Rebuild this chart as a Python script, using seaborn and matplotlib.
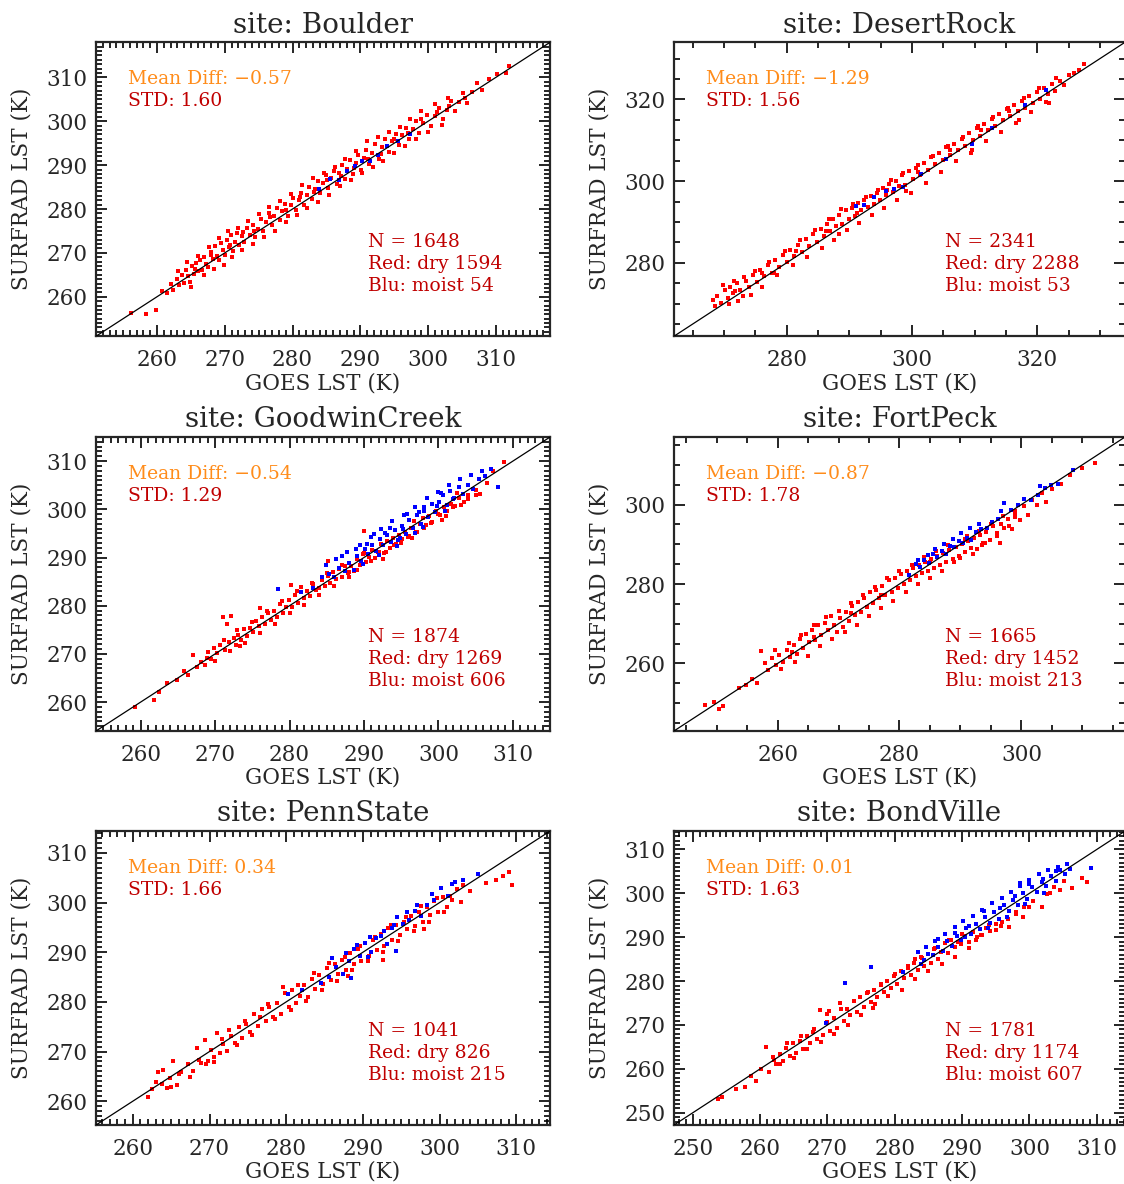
import numpy as np
import pandas as pd
import seaborn as sns
import matplotlib
matplotlib.use('Agg')
import matplotlib.pyplot as plt
from matplotlib.ticker import MultipleLocator

sns.set_style('ticks')
plt.rcParams['font.family'] = ['DejaVu Serif', 'DejaVu Sans']

# ---- data (GOES LST vs SURFRAD LST, K) ----
sites = ['Boulder', 'DesertRock', 'GoodwinCreek', 'FortPeck', 'PennState', 'BondVille']
mean_diff = [-0.57, -1.29, -0.54, -0.87, 0.34, 0.01]
std_dev = [1.60, 1.56, 1.29, 1.78, 1.66, 1.63]
n_total = [1648, 2341, 1874, 1665, 1041, 1781]
n_dry = [1594, 2288, 1269, 1452, 826, 1174]
n_moist = [54, 53, 606, 213, 215, 607]

boulder_red_x = [256.1, 258.4, 259.9, 260.8, 261.5, 262.0, 262.4, 262.9, 263.3, 263.7,
                 264.0, 264.3, 264.6, 264.9, 265.2, 265.4, 265.8, 266.1, 266.4, 266.7,
                 267.0, 267.3, 267.6, 267.9, 268.2, 268.5, 268.8, 269.1, 269.4, 269.7,
                 270.0, 270.3, 270.6, 270.9, 271.2, 271.5, 271.8, 272.1, 272.5, 272.9,
                 273.3, 273.7, 274.1, 274.5, 274.9, 275.3, 275.7, 276.1, 276.5, 276.9,
                 277.3, 277.7, 278.1, 278.5, 278.9, 279.3, 279.7, 280.1, 280.5, 280.9,
                 281.3, 281.7, 282.1, 282.5, 282.9, 283.3, 283.7, 284.1, 284.5, 284.9,
                 285.3, 285.7, 286.1, 286.5, 286.9, 287.3, 287.7, 288.1, 288.5, 288.9,
                 289.3, 289.7, 290.1, 290.5, 290.9, 291.3, 291.7, 292.2, 292.7, 293.2,
                 293.7, 294.2, 294.7, 295.2, 295.7, 296.2, 296.7, 297.2, 297.7, 298.2,
                 298.7, 299.2, 299.8, 300.4, 301.0, 301.6, 302.2, 302.8, 303.4, 304.0,
                 304.6, 305.2, 305.8, 306.5, 307.2, 308.0, 309.0, 310.2, 311.5, 312.0,
                 265.6, 268.0, 270.8, 272.7, 274.3, 276.7, 279.0, 281.1, 283.1, 285.1,
                 287.1, 289.1, 291.1, 293.0, 295.0, 297.0, 299.0, 301.3, 303.1, 305.5,
                 263.1, 264.5, 265.0, 266.0, 266.9, 267.7, 268.4, 269.2, 269.9, 270.5,
                 271.1, 271.9, 272.6, 273.4, 274.2, 275.0, 275.8, 276.6, 277.4, 278.2,
                 279.0, 279.8, 280.6, 281.4, 282.2, 283.0, 283.8, 284.6, 285.4, 286.2,
                 287.0, 287.8, 288.6, 289.4, 290.2, 291.0, 291.8, 292.6, 293.4, 294.2,
                 295.0, 295.8, 296.6, 297.4, 298.2, 299.0, 300.0, 301.0, 302.0, 303.0]
boulder_red_y = [256.3, 256.0, 256.9, 261.2, 260.9, 262.8, 261.5, 264.1, 262.6, 265.0,
                 263.2, 266.1, 264.8, 263.4, 266.9, 265.2, 267.6, 265.9, 268.3, 266.2,
                 269.1, 267.4, 266.8, 270.3, 268.7, 271.6, 269.4, 268.3, 272.2, 270.6,
                 269.5, 272.9, 271.3, 274.0, 270.4, 272.5, 274.6, 271.8, 273.9, 272.4,
                 275.7, 274.0, 276.3, 273.6, 275.4, 277.8, 275.1, 277.0, 279.2, 276.4,
                 278.4, 280.3, 277.5, 279.6, 281.2, 278.4, 280.9, 282.6, 279.7, 282.0,
                 283.7, 281.0, 283.3, 285.1, 282.2, 284.5, 286.4, 283.6, 285.9, 287.8,
                 284.9, 287.1, 288.6, 285.8, 288.3, 290.0, 286.9, 289.2, 291.1, 288.0,
                 290.4, 292.3, 289.0, 291.6, 293.4, 290.2, 292.7, 294.8, 291.5, 294.1,
                 296.0, 293.0, 295.5, 297.2, 294.6, 296.9, 298.5, 296.0, 298.2, 300.1,
                 297.3, 299.6, 301.5, 299.0, 301.2, 303.0, 300.4, 302.6, 304.7, 302.3,
                 304.4, 306.4, 304.1, 306.6, 308.7, 307.1, 309.6, 310.8, 310.9, 312.6,
                 266.3, 269.6, 271.9, 274.8, 275.1, 278.2, 279.8, 282.8, 283.9, 286.5,
                 287.6, 289.3, 291.4, 292.6, 295.9, 297.4, 300.4, 302.1, 303.4, 305.2,
                 265.9, 267.9, 262.3, 269.3, 264.9, 271.4, 266.4, 273.4, 267.3, 275.1,
                 269.0, 275.6, 270.6, 277.2, 272.1, 278.9, 273.6, 280.4, 275.0, 281.8,
                 277.0, 283.5, 278.6, 285.4, 280.2, 287.0, 281.7, 288.3, 283.3, 289.6,
                 285.2, 291.4, 286.5, 293.2, 288.1, 295.6, 289.6, 296.3, 291.0, 297.6,
                 292.8, 298.8, 294.3, 300.4, 296.0, 302.3, 297.6, 304.0, 299.1, 305.4]
boulder_blu_x = [283.9, 285.6, 286.8, 288.0, 289.2, 290.3, 291.4, 292.6, 294.0, 295.6, 297.4]
boulder_blu_y = [284.6, 286.9, 286.5, 288.6, 289.9, 290.9, 291.0, 292.3, 294.4, 295.5, 297.1]

desert_red_x = [268.2, 268.9, 269.5, 270.1, 270.6, 271.0, 271.5, 272.0, 272.5, 273.0,
                273.5, 274.0, 274.6, 275.2, 275.8, 276.4, 277.0, 277.6, 278.2, 278.8,
                279.4, 280.0, 280.6, 281.2, 281.8, 282.4, 283.0, 283.6, 284.2, 284.8,
                285.4, 285.9, 286.4, 286.9, 287.4, 287.9, 288.4, 288.9, 289.4, 289.9,
                290.4, 290.9, 291.4, 291.9, 292.4, 292.9, 293.4, 293.9, 294.4, 294.9,
                295.4, 295.9, 296.4, 296.9, 297.4, 297.9, 298.4, 298.9, 299.5, 300.1,
                300.7, 301.3, 301.9, 302.5, 303.1, 303.7, 304.3, 304.9, 305.5, 306.1,
                306.7, 307.3, 307.9, 308.5, 309.1, 309.7, 310.3, 310.9, 311.5, 312.1,
                312.7, 313.3, 313.9, 314.5, 315.1, 315.7, 316.3, 316.9, 317.5, 318.1,
                318.7, 319.3, 319.9, 320.5, 321.1, 321.7, 322.3, 322.9, 323.6, 324.3,
                325.0, 325.8, 326.6, 327.5, 321.8, 317.0, 309.5, 299.0, 288.3, 278.0,
                271.8, 276.0, 281.5, 286.2, 291.2, 296.0, 301.0, 306.0, 311.0, 315.5,
                268.6, 269.8, 270.8, 271.6, 272.3, 273.2, 274.3, 275.0, 276.1, 277.2,
                278.5, 279.8, 281.0, 282.1, 283.3, 284.5, 285.6, 286.7, 287.6, 288.6,
                289.6, 290.6, 291.6, 292.6, 293.6, 294.6, 295.6, 296.6, 297.6, 298.6,
                299.8, 301.0, 302.2, 303.4, 304.6, 305.8, 307.0, 308.2, 309.4, 310.6,
                311.8, 313.0, 314.2, 315.4, 316.6, 317.8, 319.0, 320.2, 321.4, 323.0]
desert_red_y = [270.9, 271.8, 270.2, 273.4, 271.3, 274.0, 272.6, 275.1, 273.3, 271.9,
                275.6, 274.1, 277.0, 275.3, 278.2, 276.8, 279.5, 277.4, 280.6, 279.0,
                281.9, 280.3, 283.2, 281.7, 284.4, 282.6, 285.8, 284.0, 287.0, 285.2,
                288.3, 286.5, 289.6, 287.8, 290.7, 288.9, 291.8, 289.4, 292.9, 290.6,
                293.5, 291.4, 294.6, 292.8, 295.3, 293.6, 296.4, 294.5, 297.2, 295.3,
                298.3, 296.6, 299.2, 297.4, 300.1, 298.8, 301.4, 299.0, 302.5, 300.6,
                303.2, 301.5, 304.5, 302.8, 305.9, 304.1, 307.0, 305.2, 308.3, 306.3,
                309.2, 307.6, 310.4, 308.7, 311.8, 310.0, 313.1, 311.0, 314.0, 312.4,
                315.3, 313.5, 316.4, 314.9, 317.6, 316.0, 318.7, 317.1, 319.6, 318.0,
                320.9, 319.1, 321.8, 320.2, 322.9, 321.4, 323.8, 322.1, 324.6, 323.6,
                325.9, 326.4, 327.2, 328.6, 319.2, 315.0, 307.6, 297.6, 287.0, 277.4,
                273.2, 277.5, 283.0, 287.9, 292.2, 297.8, 302.3, 307.5, 312.5, 317.1,
                269.4, 274.6, 269.9, 275.5, 270.6, 276.4, 272.0, 278.1, 274.0, 280.2,
                276.9, 282.8, 279.4, 285.6, 281.3, 288.0, 283.5, 290.8, 285.5, 293.1,
                288.0, 294.3, 289.7, 296.2, 291.6, 297.9, 293.5, 300.3, 295.4, 302.0,
                297.2, 303.9, 299.5, 306.1, 302.2, 308.6, 304.9, 310.8, 306.9, 313.4,
                309.8, 315.6, 312.1, 318.0, 314.2, 320.3, 316.8, 322.7, 319.3, 325.2]
desert_blu_x = [291.0, 292.3, 294.0, 295.8, 297.2, 298.6, 301.5, 305.5, 309.5, 312.8, 318.0, 321.4]
desert_blu_y = [293.8, 294.2, 296.0, 297.6, 298.0, 298.5, 301.8, 305.3, 309.2, 313.0, 318.6, 322.3]

goodwin_red_x = [259.2, 261.8, 262.4, 263.6, 264.9, 265.8, 266.4, 267.0, 267.6, 268.1,
                 268.6, 269.1, 269.5, 269.9, 270.3, 270.7, 271.0, 271.3, 271.6, 271.9,
                 272.2, 272.5, 272.8, 273.1, 273.5, 273.9, 274.3, 274.7, 275.1, 275.5,
                 275.9, 276.3, 276.7, 277.1, 277.5, 277.9, 278.3, 278.7, 279.1, 279.5,
                 279.9, 280.3, 280.7, 281.1, 281.5, 281.9, 282.3, 282.7, 283.1, 283.5,
                 283.9, 284.3, 284.7, 285.1, 285.5, 285.9, 286.3, 286.7, 287.1, 287.5,
                 287.9, 288.3, 288.7, 289.1, 289.5, 289.9, 290.3, 290.7, 291.1, 291.5,
                 291.9, 292.3, 292.7, 293.1, 293.5, 293.9, 294.3, 294.7, 295.1, 295.5,
                 295.9, 296.3, 296.7, 297.1, 297.5, 297.9, 298.3, 298.7, 299.2, 299.7,
                 300.2, 300.7, 301.2, 301.7, 302.2, 302.8, 303.4, 304.0, 305.0, 306.5,
                 307.3, 308.8, 305.6, 302.5, 290.0, 288.0, 285.2, 280.2, 276.0, 273.3,
                 268.9, 270.0, 271.2, 272.0, 273.0, 274.0, 275.0, 276.0, 277.0, 278.0,
                 279.0, 280.0, 281.0, 282.0, 283.0, 284.0, 285.0, 286.0, 287.0, 288.0,
                 289.0, 290.0, 291.0, 292.0, 293.0, 294.0, 295.0, 296.0, 297.0, 298.0,
                 299.0, 300.0, 301.0, 302.0, 303.0, 304.0, 305.0, 292.5, 296.5, 300.5]
goodwin_red_y = [259.0, 260.4, 262.1, 264.0, 264.6, 266.5, 265.7, 269.8, 267.2, 268.4,
                 267.6, 270.3, 268.9, 271.2, 270.1, 271.8, 277.6, 270.9, 276.3, 272.4,
                 277.9, 273.2, 271.8, 274.0, 272.9, 275.1, 273.8, 275.4, 274.6, 276.9,
                 275.7, 277.6, 276.3, 278.4, 277.0, 278.9, 277.6, 280.4, 278.5, 279.7,
                 281.1, 279.8, 282.3, 280.6, 283.8, 281.7, 283.0, 282.1, 284.5, 283.2,
                 283.7, 285.4, 284.1, 286.2, 284.8, 286.9, 285.6, 287.6, 286.0, 288.3,
                 286.8, 288.2, 287.3, 289.7, 288.4, 290.8, 289.1, 290.2, 291.6, 289.8,
                 291.2, 292.8, 290.9, 293.4, 292.0, 294.1, 292.9, 294.7, 293.8, 295.2,
                 294.3, 296.1, 297.6, 295.2, 296.9, 298.1, 296.7, 298.6, 297.3, 299.6,
                 298.9, 300.5, 299.6, 301.2, 300.7, 302.3, 301.6, 303.0, 304.1, 305.5,
                 307.9, 309.8, 303.2, 303.4, 295.4, 287.0, 289.3, 284.2, 279.5, 271.7,
                 269.2, 268.6, 272.9, 270.6, 275.0, 272.3, 276.7, 274.4, 279.0, 276.1,
                 280.9, 278.5, 283.0, 280.2, 284.7, 282.3, 286.7, 284.0, 288.4, 285.9,
                 287.5, 290.9, 289.3, 291.2, 291.1, 292.6, 293.0, 294.4, 295.3, 296.2,
                 297.2, 299.0, 298.7, 300.4, 300.9, 302.2, 303.0, 289.6, 294.0, 297.8]
goodwin_blu_x = [278.4, 281.6, 283.2, 284.4, 285.3, 286.0, 286.7, 287.4, 288.0, 288.6,
                 289.1, 289.6, 290.1, 290.6, 291.1, 291.6, 292.1, 292.6, 293.1, 293.6,
                 294.1, 294.6, 295.1, 295.6, 296.1, 296.6, 297.1, 297.6, 298.1, 298.6,
                 299.1, 299.6, 300.1, 300.6, 301.1, 301.6, 302.1, 302.7, 303.3, 304.0,
                 304.7, 305.5, 306.3, 307.0, 290.4, 292.8, 295.3, 297.4, 299.8, 302.0,
                 287.0, 288.9, 291.3, 293.5, 295.8, 298.0, 300.4, 296.9, 294.4, 308.0,
                 284.9, 286.3, 287.7, 289.4, 290.9, 292.3, 293.8, 295.4, 296.8, 298.4,
                 299.9, 301.4, 302.9, 304.4, 305.9, 289.9, 292.0, 294.9, 297.9, 300.9]
goodwin_blu_y = [283.4, 282.8, 283.6, 285.9, 286.5, 285.9, 287.8, 287.2, 288.9, 287.5,
                 290.4, 289.3, 291.8, 290.7, 292.6, 291.4, 293.9, 292.5, 294.7, 293.2,
                 295.8, 293.7, 296.6, 294.9, 297.7, 296.2, 298.8, 297.0, 299.7, 298.3,
                 301.2, 299.4, 301.6, 302.9, 300.8, 303.7, 302.4, 304.6, 303.2, 305.1,
                 304.2, 306.3, 306.9, 308.4, 292.9, 295.1, 296.0, 299.4, 300.6, 302.1,
                 290.3, 291.8, 294.8, 296.2, 299.0, 300.5, 303.3, 295.0, 292.3, 304.6,
                 288.4, 289.6, 291.1, 292.6, 294.2, 296.0, 297.5, 298.8, 300.5, 302.3,
                 303.6, 305.0, 306.2, 307.2, 307.9, 288.6, 290.5, 294.0, 296.4, 299.6]

fortpeck_red_x = [248.1, 249.5, 250.4, 251.0, 253.6, 254.8, 255.8, 256.6, 257.3, 257.9,
                  258.5, 259.1, 259.7, 260.3, 260.9, 261.5, 262.1, 262.7, 263.2, 263.7,
                  264.2, 264.7, 265.2, 265.7, 266.2, 266.7, 267.2, 267.7, 268.2, 268.7,
                  269.2, 269.7, 270.2, 270.7, 271.2, 271.7, 272.2, 272.7, 273.2, 273.7,
                  274.2, 274.7, 275.2, 275.7, 276.2, 276.7, 277.2, 277.7, 278.2, 278.7,
                  279.2, 279.7, 280.2, 280.7, 281.2, 281.7, 282.2, 282.7, 283.2, 283.7,
                  284.2, 284.7, 285.2, 285.7, 286.2, 286.7, 287.2, 287.7, 288.2, 288.7,
                  289.2, 289.7, 290.2, 290.7, 291.2, 291.7, 292.2, 292.7, 293.2, 293.7,
                  294.2, 294.8, 295.4, 296.0, 296.6, 297.2, 297.8, 298.4, 299.0, 299.7,
                  300.4, 301.1, 301.8, 302.5, 303.3, 304.1, 305.0, 306.5, 308.0, 310.0,
                  312.0, 296.5, 293.6, 298.9, 276.9, 272.0, 266.0, 262.3, 285.0, 290.8,
                  259.6, 260.6, 261.8, 262.8, 263.9, 265.0, 266.0, 267.0, 268.0, 269.0,
                  270.0, 271.0, 272.0, 273.0, 274.0, 275.0, 276.0, 277.0, 278.0, 279.0,
                  280.0, 281.0, 282.0, 283.0, 284.0, 285.0, 286.0, 287.0, 288.0, 289.0,
                  290.0, 291.0, 292.0, 293.0, 294.0, 295.0, 296.0, 297.0, 298.0, 299.0]
fortpeck_red_y = [249.5, 250.3, 248.6, 249.4, 253.7, 254.5, 256.0, 255.2, 263.1, 260.2,
                  258.4, 261.3, 259.6, 262.2, 260.3, 263.4, 261.7, 264.6, 262.5, 266.1,
                  264.0, 267.5, 265.3, 268.4, 266.0, 269.6, 267.1, 270.3, 268.4, 272.0,
                  269.8, 267.9, 271.4, 269.2, 273.0, 270.6, 274.5, 272.1, 275.4, 273.0,
                  276.6, 274.3, 277.9, 275.1, 278.6, 276.4, 279.5, 277.2, 280.9, 278.0,
                  281.4, 279.0, 282.6, 280.1, 283.2, 281.0, 284.0, 281.9, 284.9, 282.8,
                  285.6, 283.2, 286.2, 284.0, 287.1, 284.9, 287.9, 285.6, 288.5, 286.3,
                  289.3, 287.1, 290.0, 288.0, 290.8, 289.1, 291.5, 288.8, 292.4, 290.3,
                  293.1, 291.2, 294.6, 292.8, 295.1, 294.0, 296.3, 293.8, 297.7, 296.0,
                  299.6, 297.4, 301.2, 299.8, 302.9, 300.6, 303.9, 305.1, 307.4, 309.2,
                  310.5, 290.4, 289.7, 296.9, 277.3, 272.6, 266.7, 263.0, 285.6, 291.3,
                  263.5, 258.5, 265.2, 260.3, 267.1, 262.0, 269.6, 264.4, 271.8, 266.1,
                  273.3, 267.8, 275.1, 269.6, 277.3, 271.9, 279.2, 274.0, 281.4, 275.8,
                  283.4, 277.9, 284.9, 280.0, 286.7, 281.6, 288.4, 283.2, 289.7, 285.5,
                  286.6, 292.2, 287.5, 293.4, 290.4, 295.0, 292.0, 297.1, 294.6, 298.5]
fortpeck_blu_x = [281.6, 282.7, 283.4, 284.1, 284.8, 285.5, 286.2, 286.9, 287.6, 288.3,
                  289.0, 289.7, 290.4, 291.1, 291.8, 292.5, 293.4, 294.3, 295.2, 296.1,
                  297.2, 298.3, 299.4, 300.5, 301.6, 302.7, 303.8, 304.9, 306.0, 308.5,
                  283.0, 284.6, 285.9, 287.3, 288.8, 290.1, 291.5, 293.0, 296.6, 303.0]
fortpeck_blu_y = [282.2, 285.0, 284.3, 286.0, 285.3, 287.5, 286.8, 288.4, 287.5, 289.6,
                  289.2, 290.9, 290.3, 291.7, 291.2, 293.1, 293.8, 294.0, 295.6, 296.4,
                  300.5, 298.6, 299.8, 301.4, 301.1, 302.3, 304.2, 304.8, 305.1, 308.7,
                  286.0, 287.3, 288.7, 290.0, 291.4, 292.8, 294.1, 295.2, 298.3, 304.6]

penn_red_x = [262.0, 262.5, 263.3, 263.8, 264.4, 264.9, 265.3, 265.8, 266.3, 267.2,
              267.9, 268.4, 268.9, 269.4, 269.8, 270.2, 270.6, 271.0, 271.4, 271.8,
              272.3, 272.8, 273.3, 273.8, 274.3, 274.8, 275.3, 275.8, 276.3, 276.8,
              277.3, 277.8, 278.3, 278.8, 279.3, 279.8, 280.3, 280.8, 281.3, 281.8,
              282.3, 282.8, 283.3, 283.8, 284.3, 284.8, 285.3, 285.8, 286.3, 286.8,
              287.3, 287.8, 288.3, 288.8, 289.3, 289.8, 290.3, 290.8, 291.3, 291.8,
              292.3, 292.8, 293.3, 293.8, 294.3, 294.8, 295.3, 295.8, 296.3, 296.8,
              297.3, 297.8, 298.3, 298.8, 299.3, 299.8, 300.4, 301.0, 301.6, 302.3,
              303.0, 304.0, 306.0, 307.4, 308.2, 309.0, 309.4, 288.0, 292.6, 298.0,
              263.0, 264.0, 265.0, 266.0, 267.5, 268.6, 269.6, 270.6, 271.6, 272.6,
              273.6, 274.6, 275.6, 276.6, 277.6, 278.6, 279.6, 280.6, 281.6, 282.6,
              283.6, 284.6, 285.6, 286.6, 287.6, 288.6, 289.6, 290.6, 291.6, 292.6,
              293.6, 294.6, 295.6, 296.6, 297.6, 298.6, 299.6, 300.6, 301.4, 302.8]
penn_red_y = [260.9, 262.4, 265.8, 263.4, 262.6, 264.7, 268.0, 263.2, 265.9, 267.4,
              266.0, 270.8, 267.6, 272.3, 268.1, 270.4, 267.9, 273.8, 269.7, 271.6,
              270.1, 273.2, 271.7, 274.9, 272.8, 275.6, 274.0, 277.5, 275.2, 278.6,
              276.1, 278.9, 277.0, 279.7, 277.6, 281.8, 279.0, 282.3, 279.7, 281.2,
              283.4, 281.0, 284.6, 282.5, 285.5, 283.6, 286.8, 284.4, 287.6, 285.7,
              288.5, 286.4, 289.8, 287.6, 290.7, 288.3, 291.9, 289.2, 292.5, 290.4,
              293.6, 291.2, 294.8, 292.4, 295.5, 293.4, 296.0, 294.6, 297.3, 295.2,
              298.0, 296.1, 299.2, 297.4, 300.3, 298.0, 301.1, 299.2, 300.5, 302.7,
              303.5, 302.4, 304.0, 304.6, 305.3, 306.1, 303.6, 285.2, 288.5, 294.6,
              263.9, 266.3, 262.8, 265.5, 264.9, 268.2, 267.4, 269.0, 272.6, 274.3,
              271.4, 276.2, 273.3, 276.9, 279.5, 276.5, 282.9, 278.3, 283.3, 280.2,
              285.8, 282.3, 287.9, 284.2, 289.1, 286.4, 291.3, 288.2, 293.1, 290.0,
              295.5, 292.2, 297.0, 294.3, 299.3, 296.1, 301.0, 298.0, 301.3, 300.1]
penn_blu_x = [280.2, 282.0, 284.5, 285.6, 286.5, 287.4, 288.2, 288.9, 289.6, 290.3,
              291.0, 291.7, 292.4, 293.1, 293.8, 294.5, 295.2, 296.0, 296.8, 297.6,
              298.4, 299.3, 300.2, 301.1, 302.0, 303.0, 305.0, 288.4, 294.3, 290.7,
              286.0, 287.8, 289.2, 290.9, 292.7, 294.0, 295.8, 297.1, 299.0, 301.6]
penn_blu_y = [281.5, 282.4, 283.8, 285.0, 287.1, 285.6, 288.3, 290.7, 289.2, 291.8,
              290.1, 292.9, 293.2, 291.6, 294.8, 297.0, 295.7, 296.4, 298.3, 297.2,
              299.6, 300.5, 302.9, 301.4, 304.1, 304.6, 305.8, 284.8, 290.3, 289.0,
              288.8, 289.9, 291.4, 293.0, 294.2, 295.4, 298.0, 299.6, 301.8, 303.7]

bond_red_x = [253.8, 254.3, 256.4, 257.8, 258.6, 259.4, 260.2, 260.8, 261.3, 261.9,
              262.4, 262.9, 263.4, 263.9, 264.4, 264.9, 265.4, 265.9, 266.4, 266.9,
              267.4, 267.9, 268.4, 268.9, 269.4, 269.9, 270.4, 270.9, 271.4, 271.9,
              272.4, 272.9, 273.4, 273.9, 274.4, 274.9, 275.4, 275.9, 276.4, 276.9,
              277.4, 277.9, 278.4, 278.9, 279.4, 279.9, 280.4, 280.9, 281.4, 281.9,
              282.4, 282.9, 283.4, 283.9, 284.4, 284.9, 285.4, 285.9, 286.4, 286.9,
              287.4, 287.9, 288.4, 288.9, 289.4, 289.9, 290.4, 291.0, 291.6, 292.2,
              292.8, 293.5, 294.2, 295.0, 295.8, 296.8, 298.0, 299.2, 300.5, 301.8,
              302.6, 303.6, 304.5, 305.2, 306.4, 307.8, 308.6, 270.3, 276.8, 283.0,
              262.0, 263.0, 264.0, 265.0, 266.0, 267.0, 268.0, 269.0, 270.0, 271.0,
              272.0, 273.0, 274.0, 275.0, 276.0, 277.0, 278.0, 279.0, 280.0, 281.0,
              282.0, 283.0, 284.0, 285.0, 286.0, 287.0, 288.0, 289.0, 290.0, 291.0,
              292.0, 293.0, 294.0, 295.0, 296.0, 297.0, 298.0, 299.0, 300.0, 303.0]
bond_red_y = [253.1, 253.5, 255.5, 255.8, 258.4, 257.3, 260.0, 264.9, 259.2, 262.6,
              261.0, 263.5, 261.9, 264.7, 263.0, 265.8, 263.7, 266.4, 264.6, 267.5,
              265.9, 268.3, 266.8, 273.4, 267.7, 270.6, 268.6, 271.7, 269.4, 274.9,
              271.0, 273.6, 272.2, 275.4, 272.9, 276.3, 274.0, 277.4, 275.2, 278.0,
              276.3, 279.1, 277.5, 280.0, 278.4, 281.2, 279.3, 282.4, 280.6, 283.0,
              281.5, 284.1, 282.6, 285.6, 283.4, 286.2, 284.1, 287.3, 285.0, 286.6,
              288.7, 286.5, 289.4, 287.7, 289.0, 288.4, 290.3, 288.9, 291.2, 290.1,
              290.4, 292.0, 291.4, 293.0, 292.5, 294.1, 295.4, 297.0, 298.3, 296.9,
              299.8, 301.4, 300.7, 302.8, 301.3, 303.6, 302.6, 273.3, 273.8, 285.0,
              262.0, 261.2, 266.0, 262.4, 267.6, 264.5, 269.2, 266.1, 272.4, 268.0,
              273.6, 270.1, 275.4, 272.3, 277.6, 274.8, 279.3, 276.5, 281.6, 278.0,
              283.5, 280.4, 285.3, 282.3, 287.5, 284.0, 289.3, 285.6, 290.8, 287.6,
              289.4, 290.6, 292.8, 291.6, 293.5, 292.4, 295.8, 294.5, 296.8, 300.0]
bond_blu_x = [269.8, 272.6, 276.5, 281.2, 283.5, 284.3, 285.0, 285.7, 286.4, 287.1,
              287.8, 288.5, 289.2, 289.9, 290.6, 291.3, 292.0, 292.7, 293.4, 294.1,
              294.8, 295.5, 296.2, 296.9, 297.6, 298.3, 299.0, 299.7, 300.4, 301.1,
              301.8, 302.5, 303.2, 303.9, 304.6, 305.3, 306.0, 309.2, 286.4, 291.0,
              293.2, 295.6, 297.8, 300.0, 302.0, 304.0, 288.9, 290.4, 298.6, 283.9,
              284.6, 286.0, 287.5, 289.0, 290.2, 291.6, 293.0, 294.4, 295.9, 297.2,
              298.6, 300.0, 301.4, 302.8, 304.2, 305.6, 293.9, 296.6, 299.4, 302.2]
bond_blu_y = [270.5, 279.6, 283.3, 282.0, 286.6, 284.8, 286.2, 285.9, 287.8, 286.9,
              289.1, 288.0, 290.2, 289.4, 292.0, 290.8, 293.1, 291.9, 294.7, 293.3,
              295.8, 294.2, 297.4, 296.0, 298.6, 297.3, 300.0, 298.7, 301.5, 300.2,
              302.6, 301.6, 303.9, 302.8, 305.4, 304.3, 305.6, 305.7, 289.7, 292.6,
              296.0, 296.7, 299.3, 302.2, 303.2, 305.0, 290.9, 290.1, 302.3, 283.9,
              287.7, 289.1, 290.8, 292.4, 293.6, 294.9, 296.2, 297.7, 299.0, 300.4,
              301.6, 303.0, 304.4, 305.3, 306.0, 306.6, 292.1, 294.7, 297.5, 300.0]

red_x = [boulder_red_x, desert_red_x, goodwin_red_x, fortpeck_red_x, penn_red_x, bond_red_x]
red_y = [boulder_red_y, desert_red_y, goodwin_red_y, fortpeck_red_y, penn_red_y, bond_red_y]
blu_x = [boulder_blu_x, desert_blu_x, goodwin_blu_x, fortpeck_blu_x, penn_blu_x, bond_blu_x]
blu_y = [boulder_blu_y, desert_blu_y, goodwin_blu_y, fortpeck_blu_y, penn_blu_y, bond_blu_y]

# ---- layout (axis ranges, tick steps, axes boxes in figure fractions) ----
limits = [(251.0, 318.0), (262.0, 334.0), (254.0, 315.0),
          (243.0, 317.0), (255.2, 314.4), (247.2, 314.2)]
major_step = [10, 20, 10, 20, 10, 10]
minor_step = [1, 5, 1, 5, 1, 1]
col_left = [0.0854, 0.5996]
col_width = [0.404, 0.4013]
row_bottom = [0.716, 0.3826, 0.0498]
row_height = 0.2483

fig = plt.figure(figsize=(11.24, 11.84), dpi=100)

for i, site in enumerate(sites):
    r, c = divmod(i, 2)
    ax = fig.add_axes([col_left[c], row_bottom[r], col_width[c], row_height])
    lo, hi = limits[i]

    sns.scatterplot(x=red_x[i], y=red_y[i], color='#ff0000', s=6, linewidth=0,
                    marker='s', ax=ax, zorder=2)
    sns.scatterplot(x=blu_x[i], y=blu_y[i], color='#0000ff', s=6, linewidth=0,
                    marker='s', ax=ax, zorder=3)
    ax.axline((lo, lo), slope=1, color='black', lw=0.9, zorder=4)

    ax.set_xlim(lo, hi)
    ax.set_ylim(lo, hi)
    ax.xaxis.set_major_locator(MultipleLocator(major_step[i]))
    ax.yaxis.set_major_locator(MultipleLocator(major_step[i]))
    ax.xaxis.set_minor_locator(MultipleLocator(minor_step[i]))
    ax.yaxis.set_minor_locator(MultipleLocator(minor_step[i]))
    ax.tick_params(which='both', direction='in', top=True, right=True,
                   width=1.2, color='black')
    ax.tick_params(which='major', length=8, labelsize=15.5)
    ax.tick_params(axis='x', which='major', pad=9)
    ax.tick_params(axis='y', which='major', pad=6)
    ax.tick_params(which='minor', length=4)
    for sp in ax.spines.values():
        sp.set_linewidth(1.6)

    ax.set_title(f'site: {site}', fontsize=20, pad=7)
    ax.set_xlabel('GOES LST (K)', fontsize=15.5, labelpad=1)
    ax.set_ylabel('SURFRAD LST (K)', fontsize=15.5, labelpad=10)

    md = f'{mean_diff[i]:.2f}'.replace('-', '\u2212')
    ax.text(0.07, 0.875, f'Mean Diff: {md}', transform=ax.transAxes,
            color='#ff8c1a', fontsize=13.5, va='center')
    ax.text(0.07, 0.80, f'STD: {std_dev[i]:.2f}', transform=ax.transAxes,
            color='#c00000', fontsize=13.5, va='center')
    ax.text(0.6, 0.32, f'N = {n_total[i]}', transform=ax.transAxes,
            color='#c00000', fontsize=13.5, va='center')
    ax.text(0.6, 0.245, f'Red: dry {n_dry[i]}', transform=ax.transAxes,
            color='#c00000', fontsize=13.5, va='center')
    ax.text(0.6, 0.17, f'Blu: moist {n_moist[i]}', transform=ax.transAxes,
            color='#c00000', fontsize=13.5, va='center')

fig.savefig('out.png', dpi=100)
